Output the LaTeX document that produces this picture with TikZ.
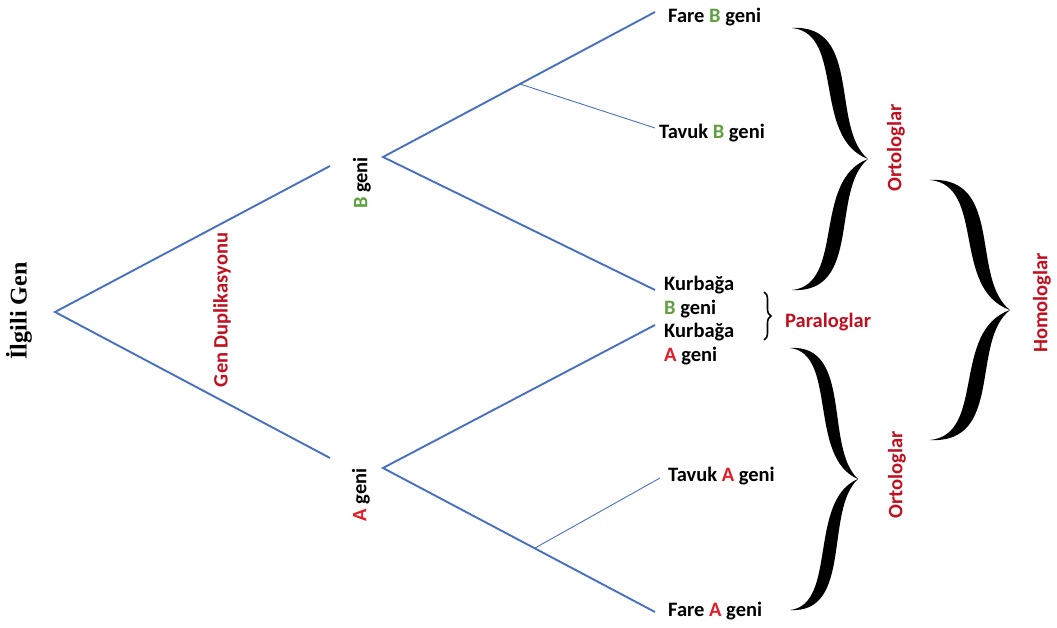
\documentclass[tikz,border=0pt]{standalone}
\usepackage{fontspec}
\setmainfont{Carlito}
\newfontfamily\serifbold{Liberation Serif}
\usetikzlibrary{decorations.pathreplacing}
\definecolor{lineblue}{RGB}{72,112,192}
\definecolor{labred}{RGB}{192,16,32}
\definecolor{ared}{RGB}{228,28,40}
\definecolor{bgreen}{RGB}{96,160,64}
\begin{document}
\begin{tikzpicture}[x=1pt,y=-1pt,
  branch/.style={lineblue,line width=1.9pt},
  twig/.style={lineblue,line width=0.9pt},
  leaf/.style={anchor=west,font=\fontsize{20.5}{24}\selectfont\bfseries,inner sep=0pt,align=left},
  mid/.style={rotate=90,font=\fontsize{20.5}{24}\selectfont\bfseries,inner sep=0pt},
  redlab/.style={labred,font=\fontsize{20.5}{24}\selectfont\bfseries,inner sep=0pt},
  pics/curly/.style={code={
    \fill (0,0) .. controls (0.70,0.04) and (0.26,0.84) .. (1,1) .. controls (0.50,0.76) and (0.93,-0.03) .. (0,0) -- cycle;
    \fill (0,2) .. controls (0.70,1.96) and (0.26,1.16) .. (1,1) .. controls (0.50,1.24) and (0.93,2.03) .. (0,2) -- cycle;
  }}
]
\useasboundingbox (0,0) rectangle (1057,628);

% root label
\node[rotate=90,font=\fontsize{24}{26}\selectfont\serifbold\bfseries,inner sep=0pt] (ilgili) at (19,311) {İlgili Gen};

% coordinates
\coordinate (root) at (55,312);
\coordinate (bend) at (330,166);
\coordinate (aend) at (330,458);
\coordinate (bsplit) at (383,157);
\coordinate (asplit) at (383,468);
\coordinate (tbsplit) at (520,84);
\coordinate (tasplit) at (535,548);
\coordinate (fareBe) at (655,12);
\coordinate (tavukBe) at (655,128);
\coordinate (kurbBe) at (655,290);
\coordinate (kurbAe) at (655,325);
\coordinate (tavukAe) at (660,478);
\coordinate (fareAe) at (655,612);

% middle labels
\node[mid] (Bgeni) at (362,183) {\textcolor{bgreen}{B} geni};
\node[mid] (Ageni) at (361,495) {\textcolor{ared}{A} geni};
\node[mid,labred] (dup) at (222,310) {Gen Duplikasyonu};

% leaves
\node[leaf] (fareB) at (668,17) {Fare \textcolor{bgreen}{B} geni};
\node[leaf] (tavukB) at (659,133) {Tavuk \textcolor{bgreen}{B} geni};
\node[leaf] (kurbB) at (664,297) {Kurbağa\\\textcolor{bgreen}{B} geni};
\node[leaf] (kurbA) at (664,344) {Kurbağa\\\textcolor{ared}{A} geni};
\node[leaf] (tavukA) at (668,476) {Tavuk \textcolor{ared}{A} geni};
\node[leaf] (fareA) at (668,611) {Fare \textcolor{ared}{A} geni};

% branches
\draw[branch] (bend) -- (root) -- (aend);
\draw[branch] (fareBe) -- (bsplit) -- (kurbBe);
\draw[branch] (kurbAe) -- (asplit) -- (fareAe);
\draw[twig] (tbsplit) -- (tavukBe);
\draw[twig] (tasplit) -- (tavukAe);

% braces
\pic[xscale=76,yscale=131] at (792,28) {curly};
\pic[xscale=68,yscale=131] at (790,348) {curly};
\pic[xscale=80,yscale=130] at (930,180) {curly};
\coordinate (pbtop) at (764,292);
\coordinate (pbbot) at (764,340);
\draw[line width=1.6pt,decorate,decoration={brace,amplitude=7pt}] (pbtop) -- (pbbot);

% group labels
\node[redlab,anchor=west] (para) at (785,322) {Paraloglar};
\node[redlab,rotate=90] (orto1) at (896,148) {Ortologlar};
\node[redlab,rotate=90] (orto2) at (897,475) {Ortologlar};
\node[redlab,rotate=90] (homo) at (1042,303) {Homologlar};
\end{tikzpicture}
\end{document}
